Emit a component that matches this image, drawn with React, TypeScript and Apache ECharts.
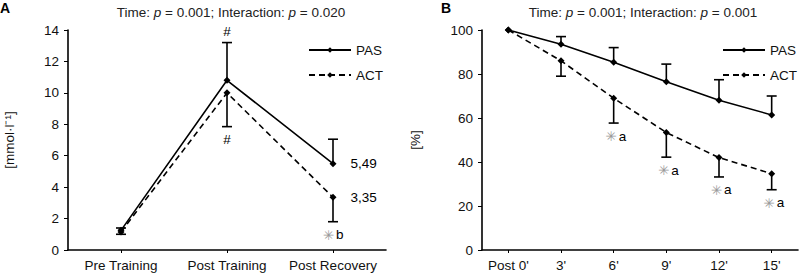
import React, { useEffect, useRef } from 'react';
import * as echarts from 'echarts';

// ---------- Data ----------
const catsA = ['Pre Training', 'Post Training', 'Post Recovery'];
const pasA = [1.25, 10.8, 5.49];
const actA = [1.15, 10.0, 3.35];
const pasAErrEnd = [1.4, 13.2, 7.05]; // upper end of SD bar
const actAErrEnd = [1.0, 7.85, 1.8]; // lower end of SD bar
const valueLabelsA = ['', '', '5,49'];
const valueLabelsActA = ['', '', '3,35'];
const hashAbovePasA = ['', '#', ''];
const markBelowActA = [
  { star: '', text: '' },
  { star: '', text: '#' },
  { star: '✳', text: 'b' },
];

const catsB = ["Post 0'", "3'", "6'", "9'", "12'", "15'"];
const pasB = [100, 93.5, 85.3, 76.5, 68.1, 61.4];
const actB = [100, 86, 69, 53.4, 42, 34.7];
const pasBErrEnd = [null, 97, 92, 84.5, 77.4, 70];
const actBErrEnd = [null, 79, 57.7, 42.2, 33.2, 27.4];
const markBelowActB = ['', '', 'a', 'a', 'a', 'a'];

const titleA = { time: '0.001', inter: '0.020' };
const titleB = { time: '0.001', inter: '0.001' };

const yTicksA = { min: 0, max: 14, interval: 2 };
const yTicksB = { min: 0, max: 100, interval: 20 };

// ---------- Styles ----------
const FONT = "'Liberation Sans', Arial, Helvetica, sans-serif";
const FS = 13.5;
const BLACK = '#000';
const GREY = '#9a9a9a';

function errSeries(gridIdx: number, vals: number[], ends: (number | null)[]) {
  const data = vals
    .map((v, i) => (ends[i] == null ? null : [i, v, ends[i]]))
    .filter((d) => d != null);
  return {
    type: 'custom',
    xAxisIndex: gridIdx,
    yAxisIndex: gridIdx,
    encode: { x: 0, y: 1 },
    silent: true,
    z: 3,
    data,
    renderItem: (params: any, api: any) => {
      const x = api.value(0);
      const p1 = api.coord([x, api.value(1)]);
      const p2 = api.coord([x, api.value(2)]);
      const st = { stroke: BLACK, lineWidth: 1.6 };
      return {
        type: 'group',
        children: [
          { type: 'line', shape: { x1: p1[0], y1: p1[1], x2: p2[0], y2: p2[1] }, style: st },
          { type: 'line', shape: { x1: p2[0] - 5, y1: p2[1], x2: p2[0] + 5, y2: p2[1] }, style: st },
        ],
      };
    },
  };
}

function textSeries(
  gridIdx: number,
  anchors: (number | null)[],
  items: { star: string; text: string }[],
  dy: number,
  dx: number
) {
  const data = anchors
    .map((v, i) => (v == null || (!items[i].star && !items[i].text) ? null : [i, v, i]))
    .filter((d) => d != null);
  return {
    type: 'custom',
    xAxisIndex: gridIdx,
    yAxisIndex: gridIdx,
    encode: { x: 0, y: 1 },
    silent: true,
    z: 4,
    data,
    renderItem: (params: any, api: any) => {
      const idx = api.value(2);
      const p = api.coord([api.value(0), api.value(1)]);
      const it = items[idx];
      const cx = p[0] + dx;
      const cy = p[1] + dy;
      const children: any[] = [];
      if (it.star) {
        children.push({
          type: 'text',
          style: {
            text: it.star,
            x: cx + 1,
            y: cy,
            align: 'right',
            verticalAlign: 'middle',
            fill: GREY,
            font: `${FS}px 'DejaVu Sans', sans-serif`,
          },
        });
        children.push({
          type: 'text',
          style: {
            text: it.text,
            x: cx + 3,
            y: cy,
            align: 'left',
            verticalAlign: 'middle',
            fill: BLACK,
            font: `${FS}px ${FONT}`,
          },
        });
      } else {
        children.push({
          type: 'text',
          style: {
            text: it.text,
            x: p[0],
            y: cy,
            align: 'center',
            verticalAlign: 'middle',
            fill: BLACK,
            font: `${FS}px ${FONT}`,
          },
        });
      }
      return { type: 'group', children };
    },
  };
}

function lineSeries(name: string, gridIdx: number, data: number[], dashed: boolean, labels?: string[]) {
  return {
    name,
    type: 'line',
    xAxisIndex: gridIdx,
    yAxisIndex: gridIdx,
    data: data.map((v, i) => ({
      value: v,
      label: labels && labels[i]
        ? {
            show: true,
            position: 'right',
            distance: 14,
            formatter: labels[i],
            color: BLACK,
            fontFamily: FONT,
            fontSize: FS,
          }
        : { show: false },
    })),
    symbol: 'diamond',
    symbolSize: 7,
    z: 5,
    itemStyle: { color: BLACK },
    lineStyle: { color: BLACK, width: 1.6, type: dashed ? [6, 4] : 'solid' },
  };
}

function titleText(t: { time: string; inter: string }) {
  return `{n|Time: }{i|p}{n| = ${t.time}; Interaction: }{i|p}{n| = ${t.inter}}`;
}

const titleRich = {
  n: { fontFamily: FONT, fontSize: FS, fontWeight: 'normal', color: '#222' },
  i: { fontFamily: FONT, fontSize: FS, fontWeight: 'normal', fontStyle: 'italic', color: '#222' },
};

function xAxis(gridIdx: number, data: string[]) {
  return {
    type: 'category',
    gridIndex: gridIdx,
    data,
    boundaryGap: true,
    axisLine: { lineStyle: { color: BLACK, width: 1.6 } },
    axisTick: { show: true, alignWithLabel: true, interval: 0, length: 3, lineStyle: { color: BLACK } },
    axisLabel: { color: '#111', fontFamily: FONT, fontSize: FS, margin: 8, interval: 0 },
    splitLine: { show: false },
  };
}

function yAxis(gridIdx: number, ticks: { min: number; max: number; interval: number }, name: string, gap: number) {
  return {
    type: 'value',
    gridIndex: gridIdx,
    min: ticks.min,
    max: ticks.max,
    interval: ticks.interval,
    name,
    nameLocation: 'middle',
    nameGap: gap,
    nameTextStyle: { color: '#111', fontFamily: FONT, fontSize: FS },
    axisLine: { show: true, lineStyle: { color: BLACK, width: 1.6 } },
    axisTick: { show: true, length: 4, lineStyle: { color: BLACK } },
    axisLabel: { color: '#111', fontFamily: FONT, fontSize: FS, margin: 9 },
    splitLine: { show: false },
  };
}

function legend(left: number) {
  return {
    data: ['PAS', 'ACT'],
    orient: 'vertical',
    left,
    top: 37,
    itemWidth: 42,
    itemHeight: 7,
    itemGap: 9,
    textStyle: { color: '#111', fontFamily: FONT, fontSize: FS, lineHeight: 16 },
  };
}

export default function App() {
  const ref = useRef<HTMLDivElement>(null);
  useEffect(() => {
    if (!ref.current) return;
    const chart = echarts.init(ref.current, null, { renderer: 'svg' });
    chart.setOption({
      animation: false,
      backgroundColor: '#fff',
      title: [
        { text: titleText(titleA), left: 226, top: 0, textAlign: 'center', textStyle: { rich: titleRich } },
        { text: titleText(titleB), left: 638, top: 0, textAlign: 'center', textStyle: { rich: titleRich } },
      ],
      graphic: [
        { type: 'text', left: 0, top: 1, style: { text: 'A', font: `bold 14px ${FONT}`, fill: BLACK } },
        { type: 'text', left: 441, top: 1, style: { text: 'B', font: `bold 14px ${FONT}`, fill: BLACK } },
      ],
      legend: [legend(303), legend(717)],
      grid: [
        { left: 68, top: 30, width: 318, height: 220 },
        { left: 482, top: 30, width: 316, height: 220 },
      ],
      xAxis: [xAxis(0, catsA), xAxis(1, catsB)],
      yAxis: [yAxis(0, yTicksA, '[mmol·l⁻¹]', 52), yAxis(1, yTicksB, '[%]', 60)],
      series: [
        lineSeries('PAS', 0, pasA, false, valueLabelsA),
        lineSeries('ACT', 0, actA, true, valueLabelsActA),
        errSeries(0, pasA, pasAErrEnd),
        errSeries(0, actA, actAErrEnd),
        textSeries(0, pasAErrEnd, hashAbovePasA.map((t) => ({ star: '', text: t })), -11, 0),
        textSeries(0, actAErrEnd, markBelowActA, 13, 0),
        lineSeries('PAS', 1, pasB, false),
        lineSeries('ACT', 1, actB, true),
        errSeries(1, pasB, pasBErrEnd),
        errSeries(1, actB, actBErrEnd),
        textSeries(1, actBErrEnd, markBelowActB.map((t) => ({ star: t ? '✳' : '', text: t })), 13, 2),
      ],
    });
    return () => chart.dispose();
  }, []);
  return (
    <div
      ref={ref}
      style={{ position: 'fixed', left: 0, top: 0, width: 800, height: 277, background: '#fff' }}
    />
  );
}
